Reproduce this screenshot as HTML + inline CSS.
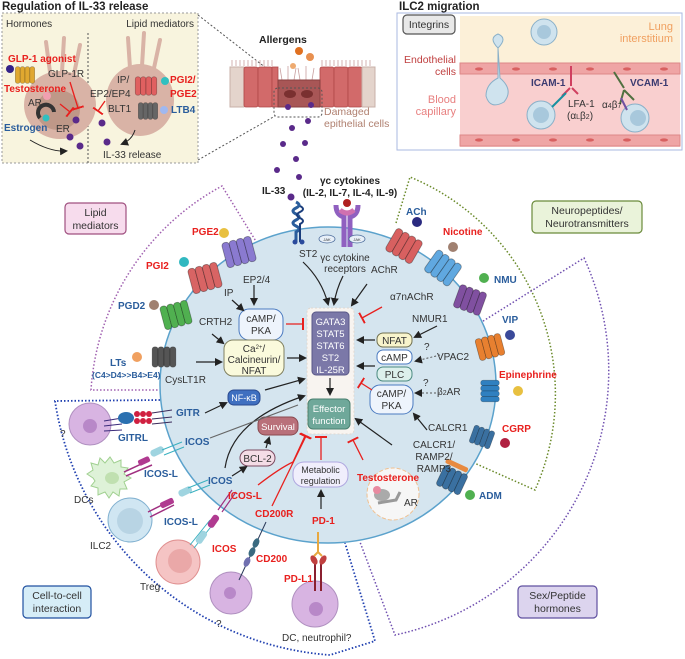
<!DOCTYPE html>
<html><head><meta charset="utf-8"><style>
html,body{margin:0;padding:0;background:#fff}
svg{display:block;font-family:"Liberation Sans",sans-serif}
.t{font-size:10px;fill:#333}
.b{font-weight:bold;font-size:10px}
.r{fill:#e8201e}.bl{fill:#2a5d9c}
</style></head><body>
<svg width="685" height="659" viewBox="0 0 685 659" xmlns="http://www.w3.org/2000/svg">
<defs>
<marker id="a" markerWidth="8" markerHeight="8" refX="6" refY="4" orient="auto" markerUnits="userSpaceOnUse"><path d="M0,0 L8,4 L0,8 z" fill="#222"/></marker>
<marker id="tb" markerWidth="2" markerHeight="12" refX="1" refY="6" orient="auto" markerUnits="userSpaceOnUse"><rect x="0" y="0" width="2" height="12" fill="#e8201e"/></marker>
<symbol id="g" viewBox="0 0 30 26"><g stroke="rgba(0,0,0,0.35)" stroke-width="0.8" fill="currentColor"><rect x="1" y="1" width="7" height="24" rx="3"/><rect x="8" y="1" width="7" height="24" rx="3"/><rect x="15" y="1" width="7" height="24" rx="3"/><rect x="22" y="1" width="7" height="24" rx="3"/></g></symbol>
</defs>

<!-- top-left box -->
<text x="2" y="10" style="font-size:11.5px;font-weight:bold" fill="#222">Regulation of IL-33 release</text>
<rect x="2" y="13" width="196" height="150" fill="#f8f4de" stroke="#999" stroke-dasharray="2,2"/>
<line x1="88" y1="33" x2="88" y2="163" stroke="#555" stroke-dasharray="2,2"/>
<text x="6" y="27" class="t" fill="#555">Hormones</text>
<text x="194" y="27" class="t" text-anchor="end">Lipid mediators</text>
<ellipse cx="60" cy="105" rx="36" ry="34" fill="#d9b3a6"/>
<ellipse cx="58" cy="110" rx="22" ry="20" fill="#bf9888"/>
<ellipse cx="140" cy="100" rx="34" ry="36" fill="#d9b3a6"/>
<g stroke="#d9b3a6" stroke-width="4" stroke-linecap="round"><line x1="50" y1="72" x2="46" y2="42"/><line x1="62" y1="72" x2="64" y2="38"/><line x1="74" y1="74" x2="80" y2="45"/><line x1="130" y1="68" x2="128" y2="38"/><line x1="142" y1="66" x2="144" y2="33"/><line x1="154" y1="68" x2="160" y2="40"/></g>
<use href="#g" x="12" y="66" width="26" height="18" color="#e0a830"/>
<circle cx="10" cy="69" r="4" fill="#332288"/>
<circle cx="47" cy="96" r="4" fill="#f0a0b0"/>
<circle cx="46" cy="118" r="3.5" fill="#30c0c0"/>
<path d="M40,118 a8,8 0 1 1 14,-6" stroke="#333" stroke-width="4" fill="none"/>
<use href="#g" x="128" y="76" width="36" height="20" color="#e06060"/>
<circle cx="165" cy="81" r="4" fill="#30c0c0"/>
<use href="#g" x="132" y="102" width="32" height="18" color="#666"/>
<circle cx="164" cy="110" r="4" fill="#a0b8f0"/>
<text x="8" y="62" class="b r">GLP-1 agonist</text>
<text x="48" y="77" class="t">GLP-1R</text>
<text x="4" y="92" class="b r">Testosterone</text>
<text x="28" y="106" class="t">AR</text>
<text x="4" y="131" class="b bl">Estrogen</text>
<text x="56" y="132" class="t">ER</text>
<path d="M70,82 L78,108" stroke="#e8201e" stroke-width="1.3" marker-end="url(#tb)"/>
<path d="M60,104 L70,112" stroke="#e8201e" stroke-width="1.3" marker-end="url(#tb)"/>
<text x="117" y="83" class="t">IP/</text>
<text x="90" y="97" class="t">EP2/EP4</text>
<path d="M105,101 L98,111" stroke="#e8201e" stroke-width="1.3" marker-end="url(#tb)"/>
<text x="108" y="112" class="t">BLT1</text>
<text x="170" y="83" class="b r">PGI2/</text>
<text x="170" y="97" class="b r">PGE2</text>
<text x="171" y="113" class="b bl">LTB4</text>
<path d="M30,140 Q50,152 66,151" stroke="#222" stroke-width="1" fill="none" marker-end="url(#a)"/>
<path d="M135,130 Q132,140 122,144" stroke="#222" stroke-width="1" fill="none" marker-end="url(#a)"/>
<text x="103" y="158" class="t">IL-33 release</text>
<g fill="#5a2a8a"><circle cx="76" cy="120" r="3.5"/><circle cx="70" cy="137" r="3.5"/><circle cx="80" cy="146" r="3.5"/><circle cx="102" cy="123" r="3.5"/><circle cx="107" cy="142" r="3.5"/></g>
<line x1="198" y1="15" x2="266" y2="68" stroke="#555" stroke-dasharray="2,2"/>
<line x1="198" y1="160" x2="275" y2="116" stroke="#555" stroke-dasharray="2,2"/>

<!-- epithelium -->
<text x="259" y="43" style="font-size:10.5px;font-weight:bold" fill="#222">Allergens</text>
<circle cx="299" cy="51" r="4" fill="#e07020"/><circle cx="310" cy="57" r="4" fill="#e89050"/><circle cx="293" cy="66" r="3" fill="#eeaa70"/>
<g stroke="#c9a0a0" stroke-width="0.8">
<path d="M232,66 l0,-6 M236,66 l0,-6 M240,66 l0,-6 M244,66 l0,-6 M248,66 l0,-6 M252,66 l0,-6 M256,66 l0,-6 M260,66 l0,-6 M264,66 l0,-6 M268,66 l0,-6 M272,66 l0,-6 M322,66 l0,-6 M326,66 l0,-6 M330,66 l0,-6 M334,66 l0,-6 M338,66 l0,-6 M342,66 l0,-6 M346,66 l0,-6 M350,66 l0,-6 M354,66 l0,-6 M358,66 l0,-6 M362,66 l0,-6 M366,66 l0,-6 M370,66 l0,-6"/>
<path d="M282,80 l-2,-12 M288,80 l0,-14 M294,80 l2,-12 M300,80 l-2,-12 M306,80 l0,-14 M312,80 l2,-12"/>
</g>
<rect x="230" y="67" width="14" height="40" fill="#e4d4cc" stroke="#c8b0a8"/>
<g fill="#d26a6a" stroke="#b04848" stroke-width="0.8">
<rect x="244" y="67" width="14" height="40" rx="2"/><rect x="258" y="67" width="14" height="40" rx="2"/><rect x="272" y="67" width="6" height="40"/>
<rect x="320" y="67" width="14" height="40" rx="2"/><rect x="334" y="67" width="14" height="40" rx="2"/><rect x="348" y="67" width="14" height="40" rx="2"/>
</g>
<rect x="362" y="67" width="13" height="40" fill="#e4d4cc" stroke="#c8b0a8"/>
<rect x="278" y="80" width="42" height="27" fill="#a85656" stroke="#8a4040"/>
<ellipse cx="290" cy="94" rx="6" ry="4" fill="#7a3030"/><ellipse cx="307" cy="94" rx="6" ry="4" fill="#7a3030"/>
<rect x="274" y="88" width="48" height="29" rx="4" fill="none" stroke="#555" stroke-dasharray="2,2"/>
<text x="324" y="115" style="font-size:10.5px" fill="#b08070">Damaged</text>
<text x="324" y="127" style="font-size:10.5px" fill="#b08070">epithelial cells</text>
<g fill="#5a2a8a"><circle cx="288" cy="107" r="3"/><circle cx="311" cy="105" r="3"/><circle cx="308" cy="121" r="3"/><circle cx="292" cy="128" r="3"/><circle cx="283" cy="144" r="3"/><circle cx="305" cy="143" r="3"/><circle cx="296" cy="159" r="3"/><circle cx="277" cy="170" r="3"/><circle cx="299" cy="177" r="3"/><circle cx="291" cy="197" r="3"/></g>

<!-- top-right box -->
<text x="399" y="10" style="font-size:11.5px;font-weight:bold" fill="#222">ILC2 migration</text>
<rect x="397" y="13" width="285" height="137" fill="#fff" stroke="#aab8e0"/>
<rect x="460" y="16" width="220" height="47" fill="#fcf0d8"/>
<rect x="460" y="63" width="220" height="84" fill="#f9cfcf"/>
<rect x="460" y="63" width="220" height="11" fill="#efa5a5" stroke="#d88"/>
<rect x="460" y="135" width="220" height="11" fill="#efa5a5" stroke="#d88"/>
<g fill="#d86060"><ellipse cx="479" cy="69" rx="4" ry="1.6"/><ellipse cx="516" cy="69" rx="4" ry="1.6"/><ellipse cx="553" cy="69" rx="4" ry="1.6"/><ellipse cx="590" cy="69" rx="4" ry="1.6"/><ellipse cx="627" cy="69" rx="4" ry="1.6"/><ellipse cx="664" cy="69" rx="4" ry="1.6"/><ellipse cx="479" cy="140" rx="4" ry="1.6"/><ellipse cx="516" cy="140" rx="4" ry="1.6"/><ellipse cx="553" cy="140" rx="4" ry="1.6"/><ellipse cx="590" cy="140" rx="4" ry="1.6"/><ellipse cx="627" cy="140" rx="4" ry="1.6"/><ellipse cx="664" cy="140" rx="4" ry="1.6"/></g>
<rect x="403" y="15" width="52" height="19" rx="4" fill="#e8e8e8" stroke="#555" stroke-width="1.2"/>
<text x="429" y="28" class="t" text-anchor="middle" style="font-size:10.5px">Integrins</text>
<text x="673" y="30" text-anchor="end" style="font-size:11px" fill="#f0a060">Lung</text>
<text x="673" y="42" text-anchor="end" style="font-size:11px" fill="#f0a060">interstitium</text>
<text x="456" y="63" text-anchor="end" style="font-size:10.5px" fill="#c04040">Endothelial</text>
<text x="456" y="75" text-anchor="end" style="font-size:10.5px" fill="#c04040">cells</text>
<text x="456" y="103" text-anchor="end" style="font-size:11px" fill="#e88080">Blood</text>
<text x="456" y="115" text-anchor="end" style="font-size:11px" fill="#e88080">capillary</text>
<circle cx="544" cy="32" r="13" fill="#cfe3ee" stroke="#8ab0c8"/><circle cx="544" cy="32" r="7" fill="#a8c8dc"/>
<path d="M498,48 q-10,-10 0,-14 q10,4 0,14 l2,30 q14,12 4,24 q-14,8 -18,-6 q0,-12 12,-18 z" fill="#cfe3ee" stroke="#8ab0c8"/>
<circle cx="541" cy="115" r="14" fill="#cfe3ee" stroke="#8ab0c8"/><circle cx="541" cy="115" r="8" fill="#a8c8dc"/>
<circle cx="635" cy="118" r="14" fill="#cfe3ee" stroke="#8ab0c8"/><circle cx="638" cy="118" r="8" fill="#a8c8dc"/>
<path d="M571,66 l0,20 M570,88 l-8,8 M572,88 l6,6" stroke="#d04060" stroke-width="2" fill="none"/>
<path d="M566,93 l-14,14" stroke="#1890a0" stroke-width="2"/>
<path d="M614,72 l10,16 M624,90 l-4,14 M624,90 l10,10" stroke="#507040" stroke-width="2" fill="none"/>
<path d="M621,98 l6,12" stroke="#7050a0" stroke-width="2"/>
<text x="531" y="86" class="b" fill="#3a3a70">ICAM-1</text>
<text x="568" y="107" class="t">LFA-1</text>
<text x="567" y="119" class="t">(α<tspan style="font-size:7px">L</tspan>β<tspan style="font-size:7px">2</tspan>)</text>
<text x="630" y="86" class="b" fill="#3a3a70">VCAM-1</text>
<text x="602" y="108" class="t">α<tspan style="font-size:7px">4</tspan>β<tspan style="font-size:7px">7</tspan></text>

<!-- dotted sector lines -->
<path d="M257,243 L222,186 A250,250 0 0 0 91,390 L160,390" fill="none" stroke="#a060b0" stroke-width="1.5" stroke-dasharray="1.5,2"/>
<path d="M396,223 L410,177 A235,235 0 0 1 535,490 L472,462" fill="none" stroke="#6a8a2a" stroke-width="1.5" stroke-dasharray="1.5,2"/>
<path d="M480,323 L584,258 A270,270 0 0 1 395,635 L360,542" fill="none" stroke="#7050b0" stroke-width="1.5" stroke-dasharray="1.5,2"/>
<path d="M160,400 L55,401 A300,300 0 0 0 330,655 L375,641 L345,543" fill="none" stroke="#2040b0" stroke-width="1.8" stroke-dasharray="1.5,2"/>

<!-- main cell -->
<ellipse cx="328" cy="385" rx="168" ry="158" fill="#d5e5ef" stroke="#5ba2cc" stroke-width="1.5"/>

<!-- category boxes -->
<rect x="65" y="203" width="61" height="31" rx="4" fill="#f7dced" stroke="#a05080" stroke-width="1.2"/>
<text x="95.5" y="216" class="t" text-anchor="middle" style="font-size:10.5px">Lipid</text>
<text x="95.5" y="229" class="t" text-anchor="middle" style="font-size:10.5px">mediators</text>
<rect x="532" y="201" width="110" height="32" rx="4" fill="#eaf3da" stroke="#6a8a3a" stroke-width="1.2"/>
<text x="587" y="214" class="t" text-anchor="middle" style="font-size:10.5px">Neuropeptides/</text>
<text x="587" y="227" class="t" text-anchor="middle" style="font-size:10.5px">Neurotransmitters</text>
<rect x="23" y="586" width="68" height="32" rx="4" fill="#d6edf7" stroke="#2050a0" stroke-width="1.2"/>
<text x="57" y="599" class="t" text-anchor="middle" style="font-size:10.5px">Cell-to-cell</text>
<text x="57" y="612" class="t" text-anchor="middle" style="font-size:10.5px">interaction</text>
<rect x="518" y="586" width="79" height="32" rx="4" fill="#dcd4ee" stroke="#6050a0" stroke-width="1.2"/>
<text x="557.5" y="599" class="t" text-anchor="middle" style="font-size:10.5px">Sex/Peptide</text>
<text x="557.5" y="612" class="t" text-anchor="middle" style="font-size:10.5px">hormones</text>

<!-- receptors -->
<use href="#g" x="223" y="238" width="32" height="28" color="#8a7ad0" transform="rotate(-15 239 252)"/>
<circle cx="224" cy="233" r="5" fill="#e8c040"/>
<use href="#g" x="189" y="264" width="32" height="28" color="#d86464" transform="rotate(-15 205 278)"/>
<circle cx="184" cy="262" r="5" fill="#30b8c0"/>
<use href="#g" x="160" y="302" width="32" height="26" color="#50b050" transform="rotate(-15 176 315)"/>
<circle cx="154" cy="305" r="5" fill="#a08070"/>
<use href="#g" x="148" y="346" width="32" height="22" color="#555"/>
<circle cx="137" cy="357" r="5" fill="#f0a060"/>
<use href="#g" x="388" y="232" width="32" height="28" color="#d86060" transform="rotate(30 404 246)"/>
<circle cx="417" cy="222" r="5" fill="#2a2a80"/>
<use href="#g" x="427" y="254" width="32" height="28" color="#60a8e0" transform="rotate(35 443 268)"/>
<circle cx="453" cy="247" r="5" fill="#a08070"/>
<use href="#g" x="454" y="287" width="32" height="26" color="#8050a0" transform="rotate(20 470 300)"/>
<circle cx="484" cy="278" r="5" fill="#50b050"/>
<use href="#g" x="474" y="335" width="32" height="24" color="#e88030" transform="rotate(-15 490 347)"/>
<circle cx="510" cy="335" r="5" fill="#3a4a9a"/>
<use href="#g" x="474" y="381" width="32" height="20" color="#3080c0" transform="rotate(90 490 391)"/>
<circle cx="518" cy="391" r="5" fill="#e8c040"/>
<use href="#g" x="466" y="427" width="32" height="20" color="#3a70a0" transform="rotate(20 482 437)"/>
<circle cx="505" cy="443" r="5" fill="#b02040"/>
<use href="#g" x="436" y="468" width="32" height="24" color="#3a70a0" transform="rotate(25 452 480)"/>
<rect x="445" y="463" width="24" height="5" rx="2" fill="#e88a40" transform="rotate(25 457 465)"/>
<circle cx="470" cy="495" r="5" fill="#50b050"/>
<!-- ST2 -->
<path d="M296,202 q6,3 0,6 q-6,3 0,6 q6,3 0,6 q-6,3 0,6 q6,3 0,6 l0,10" stroke="#2a5d9c" stroke-width="3" fill="none"/>
<path d="M300,206 q6,3 0,6 q-6,3 0,6 q6,3 0,6 l0,18" stroke="#1a3d7c" stroke-width="2" fill="none"/>
<circle cx="291" cy="197" r="3.5" fill="#5a2a8a"/>
<circle cx="295" cy="242" r="2.5" fill="#2a4a9c"/><circle cx="302" cy="242" r="2.5" fill="#2a4a9c"/>
<!-- gamma c -->
<path d="M336,205 q0,10 8,12 l0,30 M358,205 q0,10 -8,12 l0,30" stroke="#9060c0" stroke-width="5" fill="none"/>
<path d="M340,210 q7,6 14,0" stroke="#d070b0" stroke-width="5" fill="none"/>
<circle cx="347" cy="203" r="4" fill="#b02020"/>
<ellipse cx="327" cy="239" rx="8" ry="4" fill="#e8f0f8" stroke="#4a6a9a" stroke-width="0.8"/>
<ellipse cx="357" cy="239" rx="8" ry="4" fill="#e8f0f8" stroke="#4a6a9a" stroke-width="0.8"/>
<text x="327" y="241" text-anchor="middle" style="font-size:4px" fill="#333">JAK</text>
<text x="357" y="241" text-anchor="middle" style="font-size:4px" fill="#333">JAK</text>

<!-- receptor labels -->
<text x="262" y="194" class="b" fill="#222">IL-33</text>
<text x="350" y="184" text-anchor="middle" class="b" fill="#222">γc cytokines</text>
<text x="350" y="196" text-anchor="middle" class="b" fill="#222">(IL-2, IL-7, IL-4, IL-9)</text>
<text x="299" y="257" class="t">ST2</text>
<text x="345" y="261" class="t" text-anchor="middle">γc cytokine</text>
<text x="345" y="272" class="t" text-anchor="middle">receptors</text>
<text x="371" y="273" class="t">AChR</text>
<text x="406" y="215" class="b bl">ACh</text>
<text x="443" y="235" class="b r">Nicotine</text>
<text x="390" y="300" class="t">α7nAChR</text>
<text x="494" y="283" class="b bl">NMU</text>
<text x="412" y="322" class="t">NMUR1</text>
<text x="502" y="323" class="b bl">VIP</text>
<text x="437" y="360" class="t">VPAC2</text>
<text x="499" y="378" class="b r">Epinephrine</text>
<text x="437" y="395" class="t">β<tspan style="font-size:7px">2</tspan>AR</text>
<text x="428" y="431" class="t">CALCR1</text>
<text x="502" y="432" class="b r">CGRP</text>
<text x="434" y="448" class="t" text-anchor="middle">CALCR1/</text>
<text x="434" y="460" class="t" text-anchor="middle">RAMP2/</text>
<text x="434" y="472" class="t" text-anchor="middle">RAMP3</text>
<text x="479" y="499" class="b bl">ADM</text>
<text x="192" y="235" class="b r">PGE2</text>
<text x="146" y="269" class="b r">PGI2</text>
<text x="118" y="309" class="b bl">PGD2</text>
<text x="110" y="366" class="b bl">LTs</text>
<text x="92" y="378" class="b bl" style="font-size:8.5px">(C4&gt;D4&gt;&gt;B4&gt;E4)</text>
<text x="243" y="283" class="t">EP2/4</text>
<text x="224" y="296" class="t">IP</text>
<text x="199" y="325" class="t">CRTH2</text>
<text x="165" y="383" class="t">CysLT1R</text>

<!-- center boxes -->
<rect x="307" y="308" width="47" height="126" rx="4" fill="#f8f4f0" stroke="#e0d8d0" stroke-dasharray="2,2"/>
<rect x="312" y="312" width="37" height="63" rx="4" fill="#7b78a8" stroke="#5a5888"/>
<g fill="#fff" style="font-size:9.5px" text-anchor="middle"><text x="330.5" y="325">GATA3</text><text x="330.5" y="337">STAT5</text><text x="330.5" y="349">STAT6</text><text x="330.5" y="361">ST2</text><text x="330.5" y="373">IL-25R</text></g>
<rect x="308" y="399" width="42" height="30" rx="5" fill="#6fa89a" stroke="#4a8070"/>
<text x="329" y="412" fill="#fff" text-anchor="middle" style="font-size:9.5px">Effector</text>
<text x="329" y="424" fill="#fff" text-anchor="middle" style="font-size:9.5px">function</text>
<line x1="330" y1="378" x2="330" y2="394" stroke="#222" stroke-width="1.2" marker-end="url(#a)"/>

<rect x="239" y="309" width="44" height="31" rx="10" fill="#eef4fc" stroke="#4a7ac0"/>
<text x="261" y="322" class="t" text-anchor="middle">cAMP/</text><text x="261" y="334" class="t" text-anchor="middle">PKA</text>
<rect x="224" y="340" width="60" height="36" rx="9" fill="#fafadc" stroke="#808060"/>
<text x="254" y="352" class="t" text-anchor="middle">Ca<tspan style="font-size:6px" dy="-3">2+</tspan><tspan dy="3">/</tspan></text>
<text x="254" y="363" class="t" text-anchor="middle">Calcineurin/</text>
<text x="254" y="374" class="t" text-anchor="middle">NFAT</text>
<rect x="228" y="390" width="32" height="15" rx="6" fill="#3f6fc0" stroke="#2a4a90"/>
<text x="244" y="401" fill="#fff" text-anchor="middle" style="font-size:9px">NF-κB</text>
<rect x="258" y="417" width="40" height="18" rx="7" fill="#b9707a" stroke="#8a4a50"/>
<text x="278" y="430" fill="#fff" text-anchor="middle" style="font-size:9.5px">Survival</text>
<rect x="240" y="450" width="35" height="16" rx="8" fill="#f4dce6" stroke="#7a4a60"/>
<text x="257.5" y="462" class="t" text-anchor="middle">BCL-2</text>
<rect x="293" y="462" width="55" height="25" rx="11" fill="#f0eefc" stroke="#b0a8e0"/>
<text x="320.5" y="473" class="t" text-anchor="middle" style="font-size:9px">Metabolic</text>
<text x="320.5" y="484" class="t" text-anchor="middle" style="font-size:9px">regulation</text>
<rect x="377" y="333" width="35" height="14" rx="6" fill="#f8f4cc" stroke="#707050"/>
<text x="394.5" y="344" class="t" text-anchor="middle">NFAT</text>
<rect x="377" y="350" width="35" height="14" rx="6" fill="#fff" stroke="#4a7ac0"/>
<text x="394.5" y="361" class="t" text-anchor="middle">cAMP</text>
<rect x="377" y="367" width="35" height="14" rx="6" fill="#dcf0ec" stroke="#4a8a80"/>
<text x="394.5" y="378" class="t" text-anchor="middle">PLC</text>
<rect x="370" y="385" width="43" height="29" rx="10" fill="#eef4fc" stroke="#4a7ac0"/>
<text x="391.5" y="397" class="t" text-anchor="middle">cAMP/</text><text x="391.5" y="409" class="t" text-anchor="middle">PKA</text>
<circle cx="393" cy="494" r="26" fill="#f6f6f6" stroke="#f0c090" stroke-dasharray="4,2"/>
<ellipse cx="382" cy="495" rx="8" ry="6" fill="#aaa"/><circle cx="377" cy="490" r="4" fill="#e88aa0"/>
<path d="M378,503 l18,-3 l4,-8" stroke="#999" stroke-width="3" fill="none"/>
<text x="357" y="481" class="b r">Testosterone</text>
<text x="404" y="506" class="t">AR</text>

<!-- arrows -->
<g stroke="#222" stroke-width="1.2" fill="none" marker-end="url(#a)">
<path d="M303,262 Q322,280 328,304"/>
<path d="M343,276 Q336,290 334,304"/>
<path d="M367,284 L352,305"/>
<path d="M254,285 L254,304"/>
<path d="M232,300 L243,310"/>
<path d="M212,334 L223,343"/>
<path d="M196,362 L221,362"/>
<path d="M287,358 L305,358"/>
<path d="M265,390 L304,379"/>
<path d="M205,413 L226,403"/>
<path d="M225,468 Q232,420 304,396"/>
<path d="M375,340 L358,340"/>
<path d="M375,366 L358,366"/>
<path d="M437,326 L415,337"/>
<path d="M427,430 L414,414"/>
<path d="M392,445 L356,419"/>
<path d="M232,476 L246,467"/>
<path d="M266,448 L269,438"/>
<path d="M321,509 L321,491"/>
</g>
<path d="M210,438 L298,405" stroke="#666" stroke-width="1.2"/>
<g stroke="#555" stroke-width="1" stroke-dasharray="2,2" fill="none" marker-end="url(#a)"><path d="M440,355 L416,361"/><path d="M440,393 L416,393"/></g>
<text x="424" y="350" class="t">?</text><text x="423" y="386" class="t">?</text>
<g stroke="#e8201e" stroke-width="1.3" fill="none" marker-end="url(#tb)">
<path d="M286,324 L303,324"/>
<path d="M382,307 L362,318"/>
<path d="M372,390 L361,383"/>
<path d="M321,460 L321,437"/>
<path d="M363,460 L353,440"/>
<path d="M272,506 L306,436"/>
<path d="M258,485 Q280,468 293,462 L305,436"/>
</g>

<!-- cells bottom-left -->
<circle cx="90" cy="424" r="21" fill="#d8b4e2" stroke="#b090c0"/><circle cx="90" cy="426" r="7" fill="#b888c8"/>
<text x="60" y="437" class="t">?</text>
<path d="M104,421 L122,418 M104,426 L122,424 M104,431 L122,430" stroke="#3a2a7a" stroke-width="1"/>
<ellipse cx="126" cy="418" rx="8" ry="6" fill="#2a70b0"/>
<g fill="#d02040"><circle cx="137" cy="414" r="3"/><circle cx="143" cy="414" r="3"/><circle cx="149" cy="414" r="3"/><circle cx="137" cy="421" r="3"/><circle cx="143" cy="421" r="3"/><circle cx="149" cy="421" r="3"/></g>
<path d="M152,413 L172,410 M152,419 L172,417 M152,424 L172,422" stroke="#3a2a5a" stroke-width="1"/>
<text x="176" y="416" class="b bl">GITR</text>
<text x="118" y="441" class="b bl">GITRL</text>
<path d="M113,478 m-20,0 l-6,-4 l6,-4 l-2,-7 l7,2 l2,-7 l5,5 l5,-6 l4,6 l7,-3 l0,7 l7,1 l-4,6 l7,4 l-7,4 l3,7 l-7,0 l-1,7 l-6,-4 l-4,6 l-4,-6 l-7,3 l0,-7 l-7,-2 l4,-5z" fill="#def2d8" stroke="#a0d090"/>
<ellipse cx="112" cy="478" rx="7" ry="6" fill="#c0e0b0"/>
<text x="74" y="503" class="t">DCs</text>
<path d="M124,472 L150,460 M126,476 L152,465" stroke="#a03080" stroke-width="1.5"/>
<rect x="138" y="458" width="12" height="6" rx="2" fill="#b03a90" transform="rotate(-25 144 461)"/>
<rect x="150" y="448" width="14" height="7" rx="3" fill="#9fd4e0" transform="rotate(-25 157 451)"/>
<path d="M162,450 L182,442 M164,455 L184,447" stroke="#3ab0c0" stroke-width="1"/>
<text x="185" y="445" class="b bl">ICOS</text>
<text x="144" y="477" class="b bl">ICOS-L</text>
<circle cx="130" cy="520" r="22" fill="#d0e6f2" stroke="#80b0d0"/><circle cx="130" cy="521" r="13" fill="#b8d4e4"/>
<text x="90" y="549" class="t">ILC2</text>
<path d="M148,512 L172,500 M150,517 L174,505" stroke="#a03080" stroke-width="1.5"/>
<rect x="160" y="500" width="14" height="6" rx="2" fill="#b03a90" transform="rotate(-25 167 503)"/>
<rect x="178" y="488" width="14" height="7" rx="3" fill="#9fd4e0" transform="rotate(-25 185 491)"/>
<path d="M188,488 L208,480 M190,493 L210,485" stroke="#3ab0c0" stroke-width="1"/>
<text x="208" y="484" class="b bl">ICOS</text>
<text x="164" y="525" class="b bl">ICOS-L</text>
<circle cx="178" cy="562" r="22" fill="#f5c4c4" stroke="#e09090"/><circle cx="180" cy="561" r="12" fill="#eaa8a8"/>
<text x="140" y="590" class="t">Treg</text>
<path d="M190,545 L210,520 M194,548 L214,523" stroke="#3ab0c0" stroke-width="1"/>
<rect x="198" y="530" width="7" height="14" rx="3" fill="#9fd4e0" transform="rotate(35 201 537)"/>
<rect x="210" y="514" width="7" height="14" rx="3" fill="#b03a90" transform="rotate(35 213 521)"/>
<path d="M218,510 L232,490 M222,512 L236,492" stroke="#a03080" stroke-width="1.2"/>
<text x="212" y="552" class="b r">ICOS</text>
<text x="228" y="499" class="b r">ICOS-L</text>
<circle cx="231" cy="593" r="21" fill="#d8b4e2" stroke="#b090c0"/><circle cx="230" cy="593" r="6" fill="#b888c8"/>
<text x="216" y="627" class="t">?</text>
<path d="M239,580 L266,522" stroke="#2a3a5a" stroke-width="1"/>
<g fill="#3a6a80"><ellipse cx="252" cy="552" rx="3" ry="5" transform="rotate(25 252 552)"/><ellipse cx="256" cy="543" rx="3" ry="5" transform="rotate(25 256 543)"/></g>
<g fill="#7070b0"><ellipse cx="247" cy="562" rx="3" ry="5" transform="rotate(25 247 562)"/></g>
<text x="256" y="562" class="b r">CD200</text>
<text x="255" y="517" class="b r">CD200R</text>
<circle cx="315" cy="604" r="23" fill="#d8b4e2" stroke="#b090c0"/><circle cx="316" cy="609" r="7" fill="#b888c8"/>
<path d="M315,591 L315,560 M321,591 L321,560" stroke="#8a2030" stroke-width="2"/>
<ellipse cx="314" cy="560" rx="3" ry="5" fill="#c04040" transform="rotate(-30 314 560)"/>
<ellipse cx="323" cy="560" rx="3" ry="5" fill="#c04040" transform="rotate(30 323 560)"/>
<path d="M318,532 L318,553 M314,556 L318,552 L322,556" stroke="#e8a840" stroke-width="2" fill="none"/>
<text x="312" y="524" class="b r">PD-1</text>
<text x="284" y="582" class="b r">PD-L1</text>
<text x="282" y="641" class="t">DC, neutrophil?</text>
</svg>
</body></html>
